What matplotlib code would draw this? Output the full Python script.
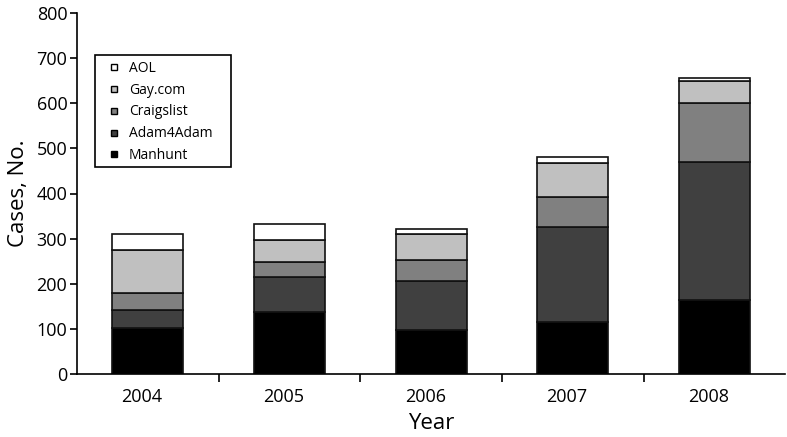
import numpy as np
import matplotlib
matplotlib.use("Agg")
import matplotlib.pyplot as plt
import matplotlib.transforms as mtransforms
from matplotlib.lines import Line2D
from matplotlib.patches import Rectangle

plt.rcParams['font.family'] = ['Open Sans', 'DejaVu Sans']

# Datos
years = ["2004", "2005", "2006", "2007", "2008"]
manhunt = [101, 138, 98, 115, 163]
adam4adam = [40, 78, 107, 210, 307]
craigslist = [38, 32, 47, 67, 131]
gaycom = [95, 48, 58, 75, 49]
aol = [37, 36, 11, 13, 7]

series = ["Manhunt", "Adam4Adam", "Craigslist", "Gay.com", "AOL"]
valores = [manhunt, adam4adam, craigslist, gaycom, aol]
colores = ["#000000", "#404040", "#808080", "#c0c0c0", "#ffffff"]

W, H = 787, 437
fig = plt.figure(figsize=(W / 100, H / 100), dpi=100)
ax = fig.add_axes([77 / W, 1 - 374 / H, 1 - 77 / W - 0.002, (374 - 13) / H])

x = np.arange(len(years))
base = np.zeros(len(years))
for nombre, vals, col in zip(series, valores, colores):
    ax.bar(x, vals, width=0.5, bottom=base, color=col, edgecolor="#111111",
           linewidth=1.2, label=nombre)
    base += np.array(vals)

ax.set_xlim(-0.5, len(years) - 0.5)
ax.set_ylim(0, 800)
ax.set_yticks(range(0, 801, 100))
ax.set_xticks(x)
ax.set_xticklabels(years)
ax.set_xticks(x[:-1] + 0.5, minor=True)
ax.tick_params(axis="x", which="major", length=0, labelsize=13, pad=10)
ax.tick_params(axis="x", which="minor", length=6, width=1.2, direction="out")
ax.tick_params(axis="y", length=5, width=1.2, labelsize=13, pad=2)

# las etiquetas de los anios quedan un poco a la izquierda del centro
desplazamiento = mtransforms.ScaledTranslation(-6 / 100, 0, fig.dpi_scale_trans)
for etiqueta in ax.get_xticklabels():
    etiqueta.set_transform(etiqueta.get_transform() + desplazamiento)

for lado in ["top", "right"]:
    ax.spines[lado].set_visible(False)
for lado in ["left", "bottom"]:
    ax.spines[lado].set_linewidth(1.2)

ax.set_ylabel("Cases, No.", fontsize=16, labelpad=5)
ax.set_xlabel("Year", fontsize=16, labelpad=5)

# Marco de la leyenda dibujado a mano (caja mas ancha que el contenido)
fig.patches.append(Rectangle((95 / W, 1 - 167 / H), (231 - 95) / W, (167 - 55) / H,
                             transform=fig.transFigure, fill=False,
                             edgecolor="black", linewidth=1.2))

# Leyenda con cuadritos pequenos, orden inverso (AOL arriba)
manejadores = [Line2D([], [], marker="s", linestyle="none", markersize=5,
                      markerfacecolor=c, markeredgecolor="black", markeredgewidth=1)
               for c in colores[::-1]]
leg = fig.legend(manejadores, series[::-1], loc="upper left",
                 bbox_to_anchor=(95 / W, 1 - 55 / H), fontsize=10,
                 frameon=False, handletextpad=0.15, labelspacing=0.5,
                 borderpad=0.4, handlelength=1.9, borderaxespad=0)

plt.savefig("out.png", dpi=100)
